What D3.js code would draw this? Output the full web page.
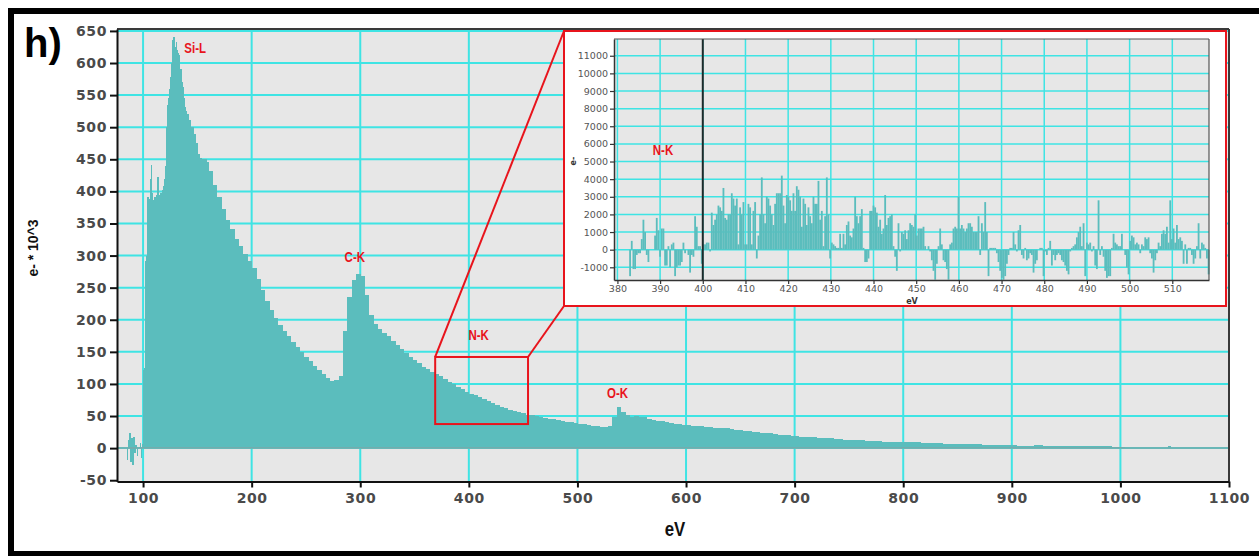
<!DOCTYPE html>
<html>
<head>
<meta charset="utf-8">
<script src="https://cdn.jsdelivr.net/npm/d3@7"></script>
<style>
  html, body { margin: 0; padding: 0; background: #fff; }
  svg { display: block; }
</style>
</head>
<body>
<script>
// ---------------- DATA ----------------
// Main spectrum: bin start energies (eV) and counts (e- * 10^3)
const mainEV = [
  85,86,87,88,89,90,91,92,93,94,95,96,97,98,99,
  100,101,102,103,104,105,106,107,108,109,110,111,112,113,114,115,116,117,118,119,
  120,121,122,123,124,125,126,127,128,129,130,131,132,133,134,135,136,137,138,139,
  140,142,144,146,148,150,152,154,156,158,
  160,164,168,172,176,180,184,188,192,196,200,204,208,212,216,220,224,228,232,236,
  240,244,248,252,256,260,264,268,272,276,280,284,288,292,296,300,304,308,312,316,
  320,324,328,332,336,340,344,348,352,356,360,364,368,372,376,380,384,388,392,396,
  400,404,408,412,416,420,424,428,432,436,440,444,448,452,456,460,464,468,472,476,
  480,484,488,492,496,500,504,508,512,516,520,524,528,532,536,540,544,548,552,556,
  560,564,568,572,576,580,584,588,592,596,600,604,608,612,616,620,624,628,632,636,
  640,644,648,652,656,660,664,668,672,676,680,684,688,692,696,700,704,708,712,716,
  720,724,728,732,736,740,744,748,752,756,760,764,768,772,776,780,784,788,792,796,
  800,804,808,812,816,820,824,828,832,836,840,844,848,852,856,860,864,868,872,876,
  880,884,888,892,896,900,904,908,912,916,920,924,928,932,936,940,944,948,952,956,
  960,964,968,972,976,980,984,988,992,996,1000,1004,1044,1046
];
const mainCounts = [
  -18,12,24,-22,15,-26,18,-8,5,-12,0,2,8,-15,6,
  121,125,292,300,392,388,420,441,398,387,392,388,395,423,392,394,398,402,408,420,
  440,500,535,545,560,578,600,636,641,625,632,620,615,612,590,570,562,545,532,525,
  520,512,500,490,475,458,452,451,450,446,
  432,410,392,372,356,342,326,315,303,291,280,264,246,229,215,203,192,182,174,166,
  158,150,142,135,128,121,115,109,104,106,112,182,235,262,272,268,238,207,194,186,
  180,174,167,160,154,148,142,137,132,127,123,119,116,112,107,103,100,96,92,88,
  85,82,79,76,73,70,67,64,62,60,58,56,54,52,51,50,48,47,46,45,
  44,43,41,40,39,38,37,36,35,34,33,33,35,48,64,56,51,49,50,49,
  48,46,44,43,42,40,39,38,37,36,36,35,34,34,33,33,32,32,31,31,
  30,29,28,27,26,25,25,24,23,23,22,21,20,20,19,19,18,18,17,17,
  16,16,15,15,14,14,13,13,12,12,12,11,11,11,11,10,10,10,10,10,
  10,9,9,9,8,8,8,8,8,7,7,7,7,7,6,6,6,6,5,5,
  5,5,5,5,5,5,4,4,4,4,5,5,4,3,3,3,3,3,3,3,
  3,3,3,3,3,3,3,3,2,2,1,0,3,0
];
const xTicks = [100,200,300,400,500,600,700,800,900,1000,1100];
const yTicks = [-50,0,50,100,150,200,250,300,350,400,450,500,550,600,650];

// Peak labels [text, eV, value]
const peakLabels = [["Si-L",148,623],["C-K",295,298],["N-K",409,176],["O-K",537,86]];
// Zoomed region on the main spectrum
const zoomBox = {e0: 369, e1: 454.5, v0: 37.5, v1: 142};

// Inset: N-K region, counts in thousands of e-
const insetStart = 382.95, insetStep = 0.3906;
const insetCountsK = [
  -1.5,0.5,-1.1,-1.1,-0.3,-0.2,-0.2,0.6,1.7,1.0,-0.3,-0.7,0,0,0,0.8,1.8,1.1,-0.4,1.2,
  1.2,-0.9,-0.9,0.2,-1.0,0.3,0.4,-1.5,-1.0,-0.9,-0.9,-0.7,0.4,-0.2,0,-0.3,-1.3,-0.3,-0.4,1.9,
  1.3,0.2,0.2,-0.8,0.3,0.3,0.4,0.4,-0.1,2.1,1.4,1.7,2.0,2.5,2.4,2.2,3.5,1.8,1.7,2.0,
  2.0,3.2,2.9,2.5,2.9,0.3,2.4,2.0,2.7,0.3,0.3,2.6,2.4,0.3,2.2,2.7,-0.5,0.8,2.0,4.1,
  2.0,1.5,3.0,2.9,2.5,2.0,1.4,2.6,3.2,3.2,3.2,4.2,2.5,1.5,3.1,3.0,2.8,2.2,3.2,2.2,
  3.6,3.4,3.0,1.3,2.9,2.6,1.4,2.4,1.9,1.5,3.0,2.6,2.6,3.9,1.7,2.2,0.2,1.9,4.1,2.0,
  -0.5,0.4,0.3,0.2,0.1,0.1,0.9,0.1,0.9,0.3,1.4,1.6,0.8,0.7,1.2,3.0,1.9,1.5,1.9,2.3,
  0.1,-0.7,-0.7,-0.5,2.2,2.2,2.5,2.4,2.1,1.3,1.7,0.9,1.2,3.1,1.4,1.8,1.9,2.0,0.2,-0.4,
  -1.2,1.5,-0.1,1.0,0.9,1.1,0.6,1.1,
  1.5,1.4,1.3,2.0,0.8,1.2,1.2,1.2,1.3,0.2,0,0.2,-0.1,-0.6,-1.2,-1.7,-0.8,0.2,1.2,0.3,
  -0.6,-0.7,-1.1,-1.7,0.3,0.4,1.2,1.3,1.2,3.0,1.2,1.4,1.2,1.0,1.2,1.5,1.5,1.3,1.0,1.0,
  1.0,1.9,-0.3,1.5,1.0,2.7,1.0,-1.5,0.1,0.1,0.1,0.1,-0.2,-0.7,-1.2,-1.6,-1.7,-1.5,-0.8,-0.3,
  0.1,0.1,1.0,0.3,-0.1,1.1,1.4,-0.3,-0.5,0.1,-0.6,-0.5,-0.2,-0.3,-1.3,-0.8,-0.6,0,0.1,0.1,
  -1.5,-0.1,-0.3,0.1,0.5,-0.9,-0.3,-0.6,-0.3,-0.2,-0.3,-0.6,-0.7,-0.9,-1.2,-1.4,-0.1,0.1,0.2,0.3,
  0.7,1.0,1.3,0.2,1.5,-1.5,0.4,0.3,0.4,-0.1,0.2,-0.9,-1.1,2.8,-0.3,0.2,-0.4,-1.2,-1.6,-1.5,
  -1.5,0.1,0.9,0.4,0.3,0.2,0.2,0.9,0,-0.3,-1.0,-1.4,0.5,0.8,0.7,0.3,0.4,0.3,-0.2,0.3,
  0.2,0.7,0.6,0.7,-0.2,-0.5,-1.3,-0.6,-0.2,0.4,0.2,0.9,1.1,0.9,1.3,0.4,2.8,0.6,1.2,0.4,
  1.4,0.6,0.7,0.5,-0.8,0.3,-0.8,0.1,0.1,-0.3,-0.8,-0.5,0.2,1.5,-0.5,0.4,0.3,0.1,-0.5,-1.4
];
const insetXTicks = [380,390,400,410,420,430,440,450,460,470,480,490,500,510];
const insetYTicksK = [-1,0,1,2,3,4,5,6,7,8,9,10,11];
const insetMarkerEV = 400;

// ---------------- STYLE / LAYOUT ----------------
const W = 1259, H = 556;
const TEAL = "#5bbdbd", GRID = "#3fe4e4", BG = "#e7e7e7", RED = "#e8141c";
const M = {l: 117, r: 1229, t: 29, b: 481.5};
const I = {l: 614, r: 1209, t: 39, b: 280};
const frame = {x: 564, y: 31, w: 662, h: 275};

const svg = d3.select("body").append("svg").attr("width", W).attr("height", H);
svg.append("rect").attr("width", W).attr("height", H).attr("fill", "#fff");

const x = d3.scaleLinear().domain([76, 1100]).range([M.l, M.r]);
const y = d3.scaleLinear().domain([-52, 653]).range([M.b, M.t]);

// plot background
svg.append("rect").attr("x", M.l).attr("y", M.t).attr("width", M.r - M.l).attr("height", M.b - M.t).attr("fill", BG);

// grid
const g = svg.append("g");
g.selectAll("line.vx").data(xTicks.filter(d => d < 1100)).join("line")
  .attr("x1", d => x(d)).attr("x2", d => x(d)).attr("y1", M.t).attr("y2", M.b)
  .attr("stroke", GRID).attr("stroke-width", 2);
g.selectAll("line.hy").data(yTicks.filter(d => d > -50)).join("line")
  .attr("x1", M.l).attr("x2", M.r).attr("y1", d => y(d)).attr("y2", d => y(d))
  .attr("stroke", GRID).attr("stroke-width", 2);

// bars
const bars = svg.append("g").attr("shape-rendering", "crispEdges");
const mainData = mainEV.map((e, i) => ({e0: e, e1: i < mainEV.length - 1 ? mainEV[i + 1] : e + 4, v: mainCounts[i]}));
bars.selectAll("rect").data(mainData.filter(d => d.v !== 0)).join("rect")
  .attr("x", d => x(d.e0))
  .attr("width", d => x(d.e1) - x(d.e0) + 0.5)
  .attr("y", d => Math.min(y(d.v), y(0)))
  .attr("height", d => Math.abs(y(d.v) - y(0)))
  .attr("fill", TEAL);

// baseline
svg.append("line").attr("x1", M.l).attr("x2", M.r).attr("y1", y(0)).attr("y2", y(0))
  .attr("stroke", "#7aa9a9").attr("stroke-width", 1.5);

// borders
svg.append("line").attr("x1", M.l).attr("x2", M.r).attr("y1", M.t).attr("y2", M.t).attr("stroke", "#3a3a3a").attr("stroke-width", 2);
svg.append("line").attr("x1", M.r).attr("x2", M.r).attr("y1", M.t).attr("y2", M.b).attr("stroke", "#3a3a3a").attr("stroke-width", 2);

// axes
const tickFont = "'DejaVu Sans', sans-serif";
const plain = d => String(d);
const ax = svg.append("g").attr("transform", `translate(${M.l},0)`)
  .call(d3.axisLeft(y).tickValues(yTicks).tickFormat(plain).tickSize(7).tickSizeOuter(0).tickPadding(3));
const bx = svg.append("g").attr("transform", `translate(0,${M.b})`)
  .call(d3.axisBottom(x).tickValues(xTicks).tickFormat(plain).tickSize(6).tickSizeOuter(0).tickPadding(5.5));
[ax, bx].forEach(a => {
  a.select(".domain").attr("stroke", "#111").attr("stroke-width", 2);
  a.selectAll(".tick line").attr("stroke", "#111").attr("stroke-width", 2);
  a.selectAll(".tick text").attr("font-family", tickFont).attr("font-weight", "bold")
    .attr("font-size", 14).attr("fill", "#4a4a4a").style("letter-spacing", "0.6px");
});

// axis titles
svg.append("text").attr("transform", "translate(675,536) scale(0.8,1)")
  .attr("text-anchor", "middle").attr("font-family", "'Liberation Sans', Arial, sans-serif")
  .attr("font-weight", "bold").attr("font-size", 21).attr("fill", "#111").text("eV");
svg.append("text").attr("transform", "translate(38,248) rotate(-90)")
  .attr("text-anchor", "middle").attr("font-family", "'Liberation Sans', Arial, sans-serif")
  .attr("font-weight", "bold").attr("font-size", 14).attr("fill", "#111").text("e- * 10^3");

// panel label
svg.append("text").attr("x", 24).attr("y", 57).attr("font-family", "'Liberation Sans', Arial, sans-serif")
  .attr("font-weight", "bold").attr("font-size", 40).attr("fill", "#000").text("h)");

// peak labels
const redFont = "'Liberation Sans', Arial, sans-serif";
peakLabels.forEach(([t, e, v]) => {
  svg.append("text").attr("transform", `translate(${x(e)},${y(v) + 5}) scale(0.82,1)`)
    .attr("text-anchor", "middle").attr("font-family", redFont).attr("font-weight", "bold")
    .attr("font-size", 14).attr("fill", RED).text(t);
});

// zoom box and connectors
const bx0 = x(zoomBox.e0), bx1 = x(zoomBox.e1), by0 = y(zoomBox.v1), by1 = y(zoomBox.v0);
svg.append("rect").attr("x", bx0).attr("y", by0).attr("width", bx1 - bx0).attr("height", by1 - by0)
  .attr("fill", "none").attr("stroke", RED).attr("stroke-width", 2);
svg.append("line").attr("x1", bx0).attr("y1", by0).attr("x2", frame.x).attr("y2", frame.y)
  .attr("stroke", RED).attr("stroke-width", 2);
svg.append("line").attr("x1", bx1).attr("y1", by0).attr("x2", frame.x).attr("y2", frame.y + frame.h)
  .attr("stroke", RED).attr("stroke-width", 2);

// ---------------- INSET ----------------
svg.append("rect").attr("x", frame.x).attr("y", frame.y).attr("width", frame.w).attr("height", frame.h)
  .attr("fill", "#fff").attr("stroke", RED).attr("stroke-width", 2);

const ix = d3.scaleLinear().domain([379.2, 518.6]).range([I.l, I.r]);
const iy = d3.scaleLinear().domain([-1.72, 11.95]).range([I.b, I.t]);

svg.append("rect").attr("x", I.l).attr("y", I.t).attr("width", I.r - I.l).attr("height", I.b - I.t).attr("fill", BG);
const ig = svg.append("g");
ig.selectAll("line.v").data(insetXTicks).join("line")
  .attr("x1", d => ix(d)).attr("x2", d => ix(d)).attr("y1", I.t).attr("y2", I.b)
  .attr("stroke", GRID).attr("stroke-width", 1.5);
ig.selectAll("line.h").data(insetYTicksK).join("line")
  .attr("x1", I.l).attr("x2", I.r).attr("y1", d => iy(d)).attr("y2", d => iy(d))
  .attr("stroke", GRID).attr("stroke-width", 1.5);

const insetData = insetCountsK.map((v, i) => ({c: insetStart + i * insetStep, v}));
svg.append("g").selectAll("rect").data(insetData.filter(d => d.v !== 0)).join("rect")
  .attr("x", d => ix(d.c - insetStep / 2))
  .attr("width", d => ix(d.c + insetStep / 2) - ix(d.c - insetStep / 2) + 0.15)
  .attr("y", d => Math.min(iy(d.v), iy(0)))
  .attr("height", d => Math.abs(iy(d.v) - iy(0)))
  .attr("fill", TEAL);

svg.append("line").attr("x1", ix(insetMarkerEV)).attr("x2", ix(insetMarkerEV)).attr("y1", I.t).attr("y2", I.b)
  .attr("stroke", "#1e2a2a").attr("stroke-width", 2);

svg.append("line").attr("x1", I.l).attr("x2", I.r).attr("y1", I.t).attr("y2", I.t).attr("stroke", "#555").attr("stroke-width", 1.2);
svg.append("line").attr("x1", I.r).attr("x2", I.r).attr("y1", I.t).attr("y2", I.b).attr("stroke", "#555").attr("stroke-width", 1.2);

const iax = svg.append("g").attr("transform", `translate(${I.l},0)`)
  .call(d3.axisLeft(iy).tickValues(insetYTicksK).tickSize(4).tickSizeOuter(0).tickPadding(2).tickFormat(d => String(Math.round(d * 1000))));
const ibx = svg.append("g").attr("transform", `translate(0,${I.b})`)
  .call(d3.axisBottom(ix).tickValues(insetXTicks).tickFormat(plain).tickSize(4).tickSizeOuter(0).tickPadding(1.5));
[iax, ibx].forEach(a => {
  a.select(".domain").attr("stroke", "#333").attr("stroke-width", 1.5);
  a.selectAll(".tick line").attr("stroke", "#333").attr("stroke-width", 1.2);
  a.selectAll(".tick text").attr("font-family", tickFont).attr("font-size", 9.5).attr("fill", "#555");
});

svg.append("text").attr("x", 912).attr("y", 304).attr("text-anchor", "middle")
  .attr("font-family", tickFont).attr("font-weight", "bold").attr("font-size", 8).attr("fill", "#333").text("eV");
svg.append("text").attr("transform", "translate(576,161) rotate(-90)").attr("text-anchor", "middle")
  .attr("font-family", tickFont).attr("font-weight", "bold").attr("font-size", 8).attr("fill", "#333").text("e-");

svg.append("text").attr("transform", "translate(663,155) scale(0.82,1)")
  .attr("text-anchor", "middle").attr("font-family", redFont).attr("font-weight", "bold")
  .attr("font-size", 14).attr("fill", RED).text("N-K");

// outer frame
svg.append("rect").attr("x", 11).attr("y", 11).attr("width", 1262).attr("height", 543)
  .attr("fill", "none").attr("stroke", "#000").attr("stroke-width", 6);
</script>
</body>
</html>
